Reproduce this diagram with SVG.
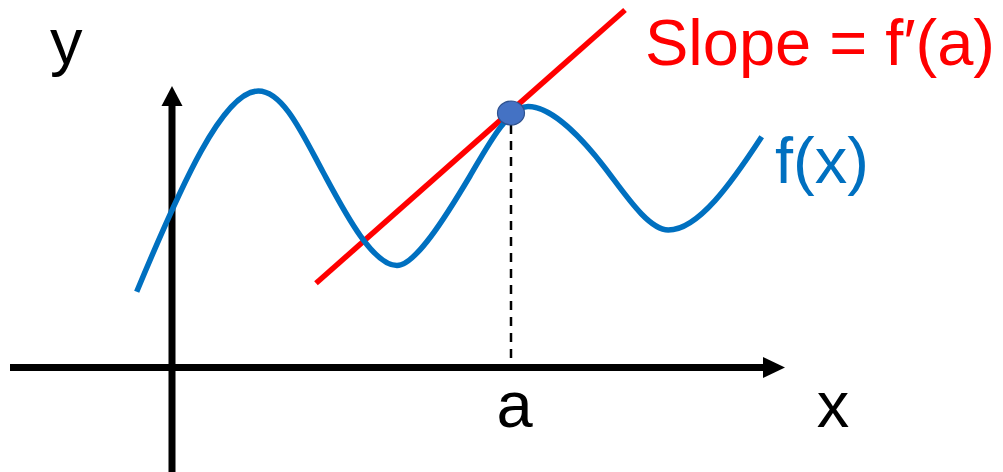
<svg xmlns="http://www.w3.org/2000/svg" width="1003" height="472" viewBox="0 0 1003 472">
  <style>
    .axis { stroke: #000000; stroke-width: 7; fill: none; }
    .head { fill: #000000; }
    .curve { stroke: #0070C0; stroke-width: 5.5; fill: none; stroke-linecap: butt; }
    .tangent { stroke: #FF0000; stroke-width: 5.5; fill: none; }
    .guide { stroke: #000000; stroke-width: 2.5; stroke-dasharray: 9 7; fill: none; }
    .lbl { font-family: "Liberation Sans", Arial, sans-serif; font-size: 65px; }
  </style>
  <rect x="0" y="0" width="1003" height="472" fill="#ffffff"/>

  <g id="axes">
    <line class="axis" x1="10" y1="367.5" x2="766" y2="367.5"/>
    <polygon class="head" points="763,357 785,367.5 763,378"/>
    <line class="axis" x1="172" y1="472" x2="172" y2="104"/>
    <polygon class="head" points="161.5,106 172,86 182.5,106"/>
  </g>

  <g id="connectors">
    <line class="guide" x1="511" y1="125" x2="511" y2="364"/>
    <line class="tangent" x1="316" y1="283.3" x2="625" y2="10"/>
  </g>

  <g id="function-curve">
    <path class="curve" d="M136.7,291.7 C181.7,183.7 223.3,91 258.3,91 C283.3,91 303,135 323,172 C343,209 372,265.5 397,265.5 C415,265.5 445,218 470,176 C485,150.8 508,106.5 528,106.5 C553,106.5 585,142 605,168 C625,194 648.3,230 668.3,230 C698.3,230 731.7,182.6 761.7,136.7"/>
  </g>

  <g id="point-a">
    <ellipse cx="511" cy="113" rx="13.5" ry="12" fill="#4472C4" stroke="#2F528F" stroke-width="1.2"/>
  </g>

  <g id="labels">
    <text class="lbl" x="50" y="64" fill="#000000">y</text>
    <text class="lbl" x="514.5" y="427" fill="#000000" text-anchor="middle">a</text>
    <text class="lbl" x="833" y="427" fill="#000000" text-anchor="middle">x</text>
    <text class="lbl" x="645" y="65" fill="#FF0000">Slope = f′(a)</text>
    <text class="lbl" x="775" y="183" fill="#0070C0">f(x)</text>
  </g>
</svg>
